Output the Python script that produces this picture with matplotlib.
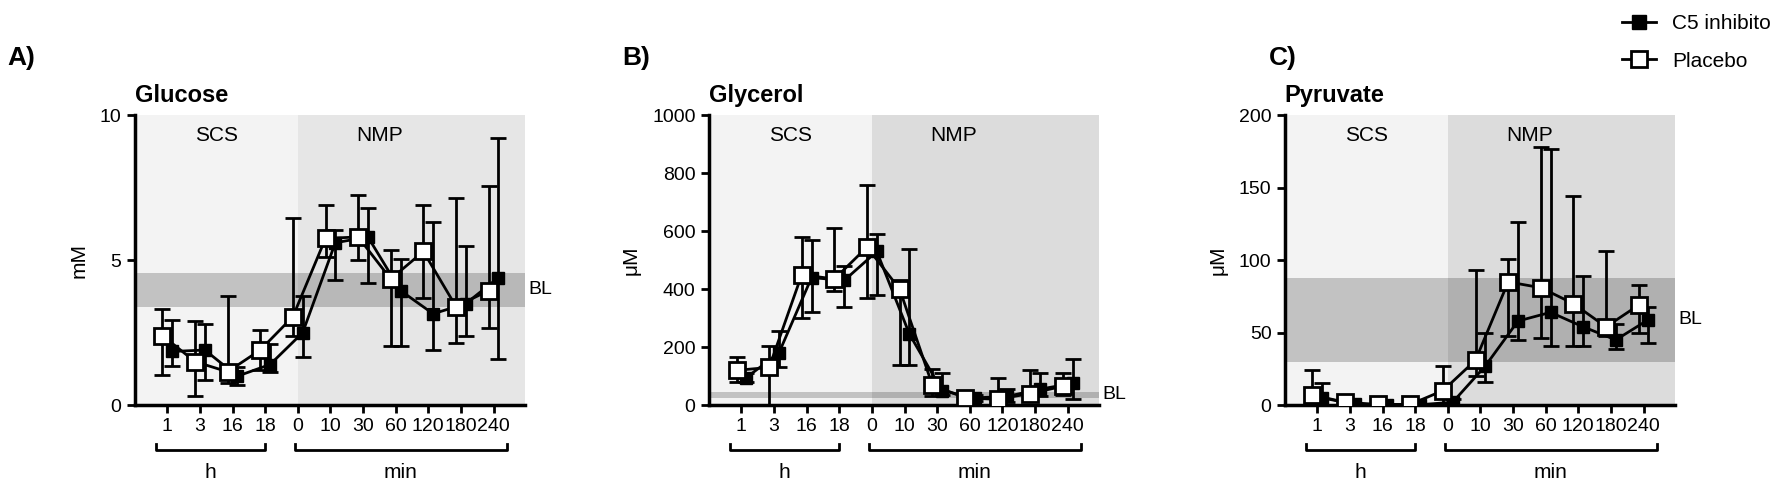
import numpy as np
import matplotlib.pyplot as plt
from matplotlib.lines import Line2D
import matplotlib.transforms as mtransforms

plt.rcParams["font.family"] = "Liberation Sans"

# ==============================================================================
# DATOS
# ==============================================================================
TICK_LABELS = ["1", "3", "16", "18", "0", "10", "30", "60", "120", "180", "240"]

# Glucose (mM)
glu_plac = [2.4, 1.5, 1.15, 1.9, 3.05, 5.75, 5.8, 4.35, 5.3, 3.4, 3.95]
glu_plac_hi = [3.3, 2.9, 3.75, 2.6, 6.45, 6.9, 7.25, 5.35, 6.9, 7.15, 7.55]
glu_plac_lo = [1.05, 0.3, 0.75, 1.2, 2.4, 5.1, 5.0, 2.05, 3.7, 2.15, 2.65]
glu_c5 = [1.85, 1.9, 1.0, 1.4, 2.5, 5.6, 5.8, 3.95, 3.15, 3.5, 4.4]
glu_c5_hi = [2.95, 2.8, 1.3, 2.1, 3.75, 6.05, 6.8, 5.05, 6.3, 5.5, 9.2]
glu_c5_lo = [1.35, 0.85, 0.7, 1.15, 1.65, 4.3, 4.2, 2.05, 1.9, 2.4, 1.6]
glu_bl = (3.4, 4.55)

# Glycerol (uM)
gly_plac = [120, 130, 450, 435, 545, 400, 70, 25, 20, 40, 65]
gly_plac_hi = [165, 205, 580, 610, 760, 430, 125, 30, 95, 120, 110]
gly_plac_lo = [80, 0, 300, 395, 370, 140, 30, 15, 10, 20, 35]
gly_c5 = [95, 180, 440, 430, 530, 245, 50, 25, 30, 55, 75]
gly_c5_hi = [110, 255, 570, 480, 590, 540, 110, 35, 55, 110, 160]
gly_c5_lo = [80, 130, 320, 340, 380, 140, 35, 15, 10, 30, 20]
gly_bl = (25, 45)

# Pyruvate (uM)
pyr_plac = [7, 2, 0.5, 0.5, 10, 31, 85, 81, 70, 54, 69]
pyr_plac_hi = [24, 5, 1, 1, 27, 93, 101, 178, 144, 106, 83]
pyr_plac_lo = [0, 0, 0, 0, 0, 20, 48, 46, 41, 48, 50]
pyr_c5 = [5, 0.5, 0.3, 0.3, 2, 27, 58, 64, 54, 45, 59]
pyr_c5_hi = [15, 1, 0.5, 0.5, 4, 50, 126, 177, 89, 56, 68]
pyr_c5_lo = [0, 0, 0, 0, 0, 16, 45, 41, 41, 39, 43]
pyr_bl = (30, 88)

PANELS = [
    ("A)", "Glucose", "mM", 10, [0, 5, 10], "#e6e6e6",
     glu_plac, glu_plac_lo, glu_plac_hi, glu_c5, glu_c5_lo, glu_c5_hi, glu_bl),
    ("B)", "Glycerol", "\u03bcM", 1000, [0, 200, 400, 600, 800, 1000], "#dcdcdc",
     gly_plac, gly_plac_lo, gly_plac_hi, gly_c5, gly_c5_lo, gly_c5_hi, gly_bl),
    ("C)", "Pyruvate", "\u03bcM", 200, [0, 50, 100, 150, 200], "#dcdcdc",
     pyr_plac, pyr_plac_lo, pyr_plac_hi, pyr_c5, pyr_c5_lo, pyr_c5_hi, pyr_bl),
]

LEFTS = [0.076, 0.40, 0.725]
LETRA_X = [0.004, 0.351, 0.716]
ANCHO = 0.22
OFF = 0.15

fig = plt.figure(figsize=(17.72, 4.8), dpi=100)
x = np.arange(len(TICK_LABELS))

for left, lx, (letra, titulo, unidad, ymax, yticks, nmp_col,
               p, plo, phi, c, clo, chi, bl) in zip(LEFTS, LETRA_X, PANELS):
    ax = fig.add_axes([left, 0.156, ANCHO, 0.604])
    ax.set_xlim(-1, 10.95)
    ax.set_ylim(0, ymax)
    ax.axvspan(-1, 4, color="#f3f3f3", zorder=0, lw=0)
    ax.axvspan(4, 10.95, color=nmp_col, zorder=0, lw=0)
    ax.axhspan(bl[0], bl[1], color="black", alpha=0.2, zorder=1, lw=0)

    p = np.array(p, float); c = np.array(c, float)
    ax.errorbar(x + OFF, c, yerr=[c - np.array(clo), np.array(chi) - c],
                fmt="s-", color="black", mfc="black", mec="black", ms=9,
                lw=2, elinewidth=2, capsize=6, capthick=2, zorder=3)
    ax.errorbar(x - OFF, p, yerr=[p - np.array(plo), np.array(phi) - p],
                fmt="s-", color="black", mfc="white", mec="black", ms=11, mew=2,
                lw=2, elinewidth=2, capsize=6, capthick=2, zorder=4)

    ax.set_xticks(x)
    ax.set_xticklabels(TICK_LABELS, fontsize=14)
    ax.set_yticks(yticks)
    ax.tick_params(axis="y", labelsize=14, width=2, length=6)
    ax.tick_params(axis="x", width=2, length=6)
    for s in ["top", "right"]:
        ax.spines[s].set_visible(False)
    for s in ["left", "bottom"]:
        ax.spines[s].set_linewidth(2.5)
    ax.set_ylabel(unidad, fontsize=15, labelpad=8)

    ax.text(1.5, ymax * 0.93, "SCS", ha="center", va="center", fontsize=15)
    ax.text(6.5, ymax * 0.93, "NMP", ha="center", va="center", fontsize=15)
    ax.text(1.01, np.mean(bl) / ymax, "BL", transform=ax.transAxes,
            ha="left", va="center", fontsize=14)
    ax.text(0.0, 1.03, titulo, transform=ax.transAxes, fontsize=17,
            fontweight="bold", ha="left", va="bottom")
    fig.text(lx, 0.88, letra, fontsize=19, fontweight="bold", ha="left", va="center")

    # corchetes h / min
    trans = mtransforms.blended_transform_factory(ax.transData, ax.transAxes)
    for x0, x1, etiqueta in [(-0.35, 3.0, "h"), (3.9, 10.4, "min")]:
        ax.plot([x0, x0, x1, x1], [-0.135, -0.155, -0.155, -0.135], color="black",
                lw=2, transform=trans, clip_on=False)
        ax.text((x0 + x1) / 2, -0.2, etiqueta, transform=trans, ha="center",
                va="top", fontsize=15)

handles = [
    Line2D([], [], color="black", marker="s", ms=10, mfc="black", lw=2, label="C5 inhibitor"),
    Line2D([], [], color="black", marker="s", ms=11, mfc="white", mew=2, lw=2, label="Placebo"),
]
fig.legend(handles=handles, loc="upper left", bbox_to_anchor=(0.905, 1.01),
           frameon=False, fontsize=15, handlelength=1.6, labelspacing=0.9)

fig.savefig("out.png", dpi=100)
